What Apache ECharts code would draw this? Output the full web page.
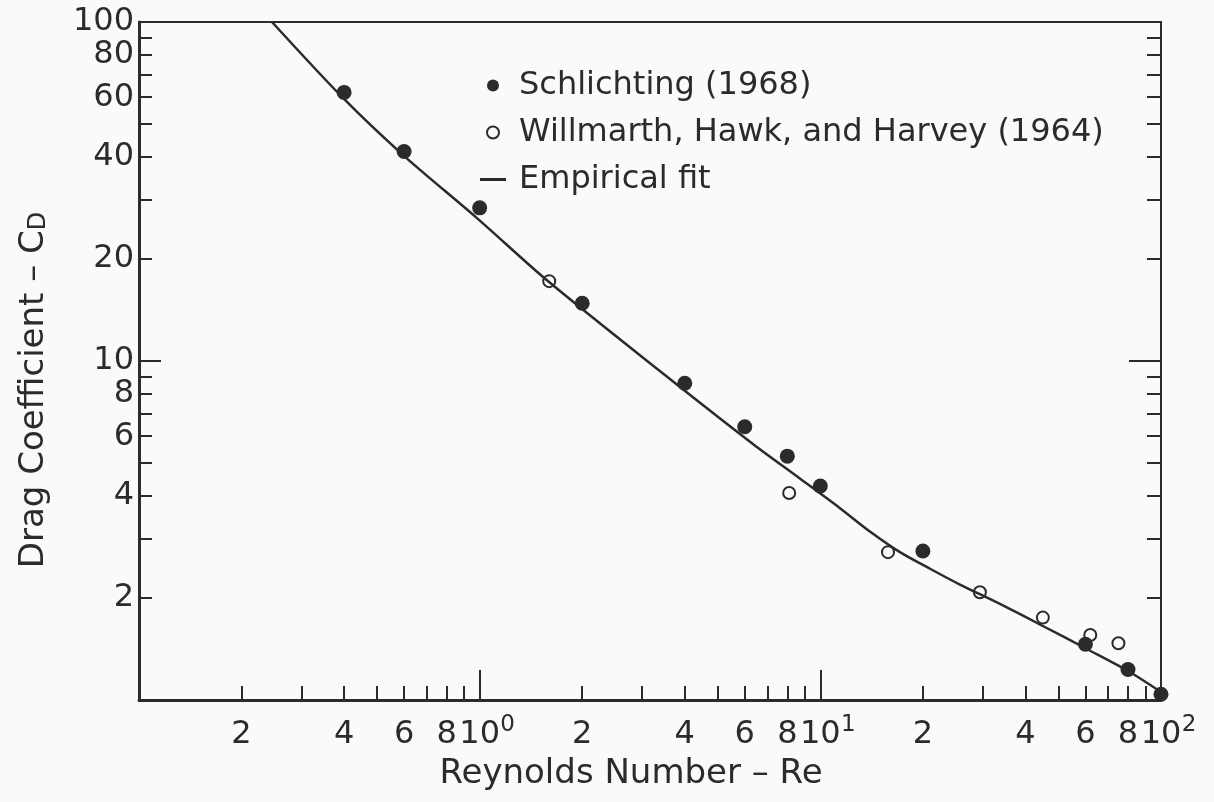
<!DOCTYPE html>
<html>
<head>
<meta charset="utf-8">
<title>Drag coefficient vs Reynolds number</title>
<script src="https://cdn.jsdelivr.net/npm/echarts@6/dist/echarts.min.js"></script>
<style>
    html, body { margin: 0; padding: 0; background: #fafaf8; }
    #chart { width: 1214px; height: 802px; }
</style>
</head>
<body>
<div id="chart"></div>
<script>
// values (Re, Cd)
var schlichtingRe = [0.4, 0.6, 1.0, 2.0, 4.0, 6.0, 8.0, 10, 20, 60, 80, 100];
var schlichtingCd = [62, 41.5, 28.3, 14.8, 8.6, 6.4, 5.24, 4.28, 2.75, 1.46, 1.23, 1.04];
var willmarthRe = [1.6, 8.1, 15.8, 29.4, 45, 62, 75];
var willmarthCd = [17.2, 4.08, 2.73, 2.08, 1.75, 1.555, 1.47];
var fitRe = [0.2457, 0.397, 0.596, 0.982, 1.576, 3.38, 6.34, 8.71, 11.42, 13.98, 17.13, 20.97, 25.69, 33.67, 45, 60.6, 80, 100];
var fitCd = [100, 59.7, 40.5, 26.4, 17.3, 9.34, 5.69, 4.50, 3.68, 3.14, 2.73, 2.44, 2.19, 1.92, 1.653, 1.414, 1.218, 1.056];

// ticks and labels
var xMinorTicks = [0.2, 0.3, 0.4, 0.5, 0.6, 0.7, 0.8, 0.9, 2, 3, 4, 5, 6, 7, 8, 9, 20, 30, 40, 50, 60, 70, 80, 90];
var xMajorTicks = [1, 10];
var xLabelValues = [0.2, 0.4, 0.6, 0.8, 1, 2, 4, 6, 8, 10, 20, 40, 60, 80, 100];
var xLabelText = ["2", "4", "6", "8", "10^0", "2", "4", "6", "8", "10^1", "2", "4", "6", "8", "10^2"];
var xDecadeValues = [1, 10, 100];
var yMinorTicks = [2, 3, 4, 5, 6, 7, 8, 9, 20, 30, 40, 50, 60, 70, 80, 90];
var yMajorTicks = [10];
var yLabelValues = [2, 4, 6, 8, 10, 20, 40, 60, 80, 100];
var yLabelText = ["2", "4", "6", "8", "10", "20", "40", "60", "80", "100"];

var ink = "#2b2b2b", paper = "#fafaf8", font = "DejaVu Sans";

function pairs(xs, ys) {
    var out = [];
    for (var i = 0; i < xs.length; i++) out.push([xs[i], ys[i]]);
    return out;
}
function lookup(vals, texts, v) {
    for (var i = 0; i < vals.length; i++)
        if (Math.abs(Math.log10(v) - Math.log10(vals[i])) < 1e-6) return texts[i];
    return "";
}
// "10^0" -> base on the main axis, exponent on a second axis beside it
function fmtX(v) {
    return lookup(xLabelValues, xLabelText, v).split("^")[0];
}
function fmtXExp(v) {
    var p = lookup(xLabelValues, xLabelText, v).split("^");
    return p.length > 1 ? p[1] : "";
}
function fmtY(v) {
    return lookup(yLabelValues, yLabelText, v);
}

function baseAxis(min, max, pos) {
    return {
        type: "log", logBase: 10, min: min, max: max, position: pos,
        axisLine: {show: false},
        axisTick: {show: false},
        axisLabel: {show: false},
        splitLine: {show: false}
    };
}

var xMinor = baseAxis(0.1, 100, "bottom");
xMinor.axisLine = {show: true, lineStyle: {color: ink, width: 3}};
xMinor.axisTick = {show: true, inside: true, length: 14, customValues: xMinorTicks, lineStyle: {color: ink, width: 2}};
xMinor.axisLabel = {
    show: true, customValues: xLabelValues, formatter: fmtX, margin: 19,
    showMinLabel: true, showMaxLabel: true, hideOverlap: false,
    fontFamily: font, fontSize: 32, color: ink
};
xMinor.name = "Reynolds Number – Re";
xMinor.nameLocation = "middle";
xMinor.nameGap = 57;
xMinor.nameTextStyle = {fontFamily: font, fontSize: 34, color: ink, padding: [0, 38, 0, 0]};

var xMajor = baseAxis(0.1, 100, "bottom");
xMajor.axisTick = {show: true, inside: true, length: 30, customValues: xMajorTicks, lineStyle: {color: ink, width: 2}};
xMajor.axisLabel = {
    show: true, customValues: xDecadeValues, formatter: fmtXExp, margin: 14,
    showMinLabel: true, showMaxLabel: true, hideOverlap: false,
    fontFamily: font, fontSize: 23, color: ink, padding: [0, 0, 0, 56]
};

var xTop = baseAxis(0.1, 100, "top");
xTop.axisLine = {show: true, lineStyle: {color: ink, width: 2}};

var yMinor = baseAxis(1, 100, "left");
yMinor.axisLine = {show: true, lineStyle: {color: ink, width: 3}};
yMinor.axisTick = {show: true, inside: true, length: 13, customValues: yMinorTicks, lineStyle: {color: ink, width: 2}};
yMinor.axisLabel = {
    show: true, customValues: yLabelValues, formatter: fmtY, margin: 5,
    showMinLabel: true, showMaxLabel: true,
    fontFamily: font, fontSize: 32, color: ink
};
yMinor.name = "Drag Coefficient – C{sub|D}";
yMinor.nameLocation = "middle";
yMinor.nameRotate = 90;
yMinor.nameGap = 88;
yMinor.nameTextStyle = {
    fontFamily: font, fontSize: 34, color: ink, padding: [0, 58, 0, 0],
    rich: {sub: {fontFamily: font, fontSize: 24, color: ink, verticalAlign: "bottom"}}
};

var yMajor = baseAxis(1, 100, "left");
yMajor.axisTick = {show: true, inside: true, length: 22, customValues: yMajorTicks, lineStyle: {color: ink, width: 2}};

var yRight = baseAxis(1, 100, "right");
yRight.axisLine = {show: true, lineStyle: {color: ink, width: 2}};
yRight.axisTick = {show: true, inside: true, length: 14, customValues: yMinorTicks, lineStyle: {color: ink, width: 2}};

var yRightMajor = baseAxis(1, 100, "right");
yRightMajor.axisTick = {show: true, inside: true, length: 32, customValues: yMajorTicks, lineStyle: {color: ink, width: 2}};

var myChart = echarts.init(document.getElementById("chart"));
myChart.setOption({
    backgroundColor: paper,
    animation: false,
    grid: {left: 139, right: 53, top: 22, bottom: 102, outerBoundsMode: "none"},
    legend: {
        orient: "vertical", left: 475, top: 64, itemGap: 14,
        itemWidth: 26, itemHeight: 12,
        data: [
            "Schlichting (1968)",
            "Willmarth, Hawk, and Harvey (1964)",
            {name: "Empirical fit", icon: "path://M0,0H26V3H0Z"}
        ],
        textStyle: {fontFamily: font, fontSize: 32, color: ink, lineHeight: 33, padding: [0, 0, 0, 8]}
    },
    xAxis: [xMinor, xMajor, xTop],
    yAxis: [yMinor, yMajor, yRight, yRightMajor],
    series: [{
        name: "Empirical fit", type: "line", xAxisIndex: 0, yAxisIndex: 0,
        data: pairs(fitRe, fitCd), smooth: 0.3, symbol: "none",
        lineStyle: {color: ink, width: 2.5}, itemStyle: {color: ink}
    }, {
        name: "Willmarth, Hawk, and Harvey (1964)", type: "scatter", xAxisIndex: 0, yAxisIndex: 0,
        data: pairs(willmarthRe, willmarthCd), symbol: "circle", symbolSize: 12,
        itemStyle: {color: paper, borderColor: ink, borderWidth: 2, opacity: 1}
    }, {
        name: "Schlichting (1968)", type: "scatter", xAxisIndex: 0, yAxisIndex: 0,
        data: pairs(schlichtingRe, schlichtingCd), symbol: "circle", symbolSize: 15,
        itemStyle: {color: ink, opacity: 1}
    }]
});
</script>
</body>
</html>
